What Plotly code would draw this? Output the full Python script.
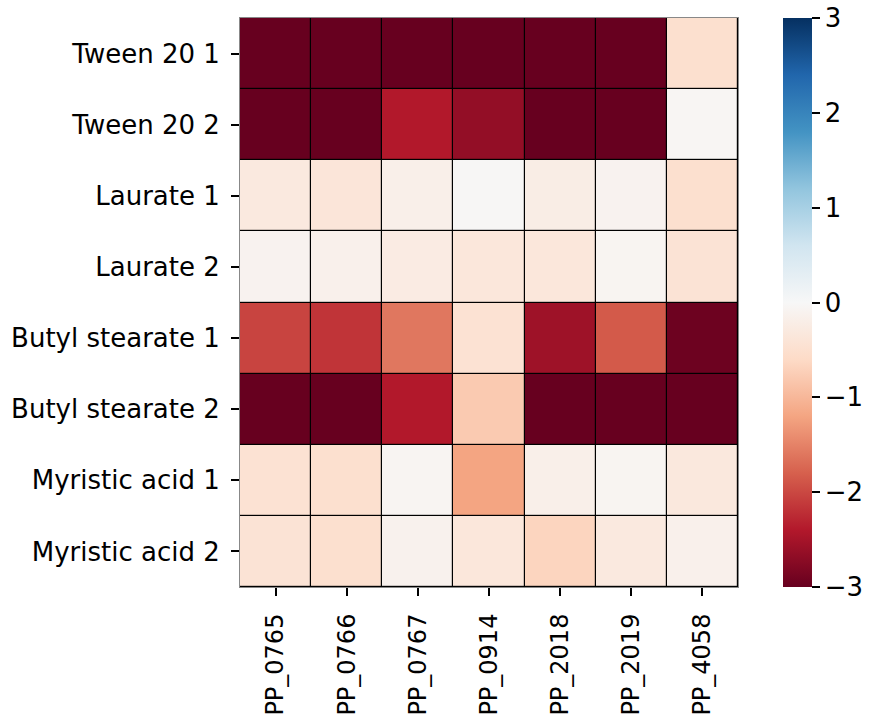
import plotly.graph_objects as go

genes = ["PP_0765", "PP_0766", "PP_0767", "PP_0914", "PP_2018", "PP_2019", "PP_4058"]
conditions = ["Tween 20 1", "Tween 20 2", "Laurate 1", "Laurate 2",
              "Butyl stearate 1", "Butyl stearate 2", "Myristic acid 1", "Myristic acid 2"]

tween20_1 = [-3.0, -3.0, -3.0, -3.0, -3.0, -3.0, -0.5]
tween20_2 = [-3.0, -3.0, -2.4, -2.65, -3.0, -3.0, -0.05]
laurate_1 = [-0.3, -0.38, -0.18, -0.03, -0.22, -0.1, -0.5]
laurate_2 = [-0.1, -0.15, -0.25, -0.35, -0.35, -0.07, -0.42]
butyl_1 = [-2.03, -2.17, -1.6, -0.45, -2.56, -1.85, -2.95]
butyl_2 = [-3.0, -3.0, -2.4, -0.79, -3.0, -3.0, -3.0]
myristic_1 = [-0.45, -0.5, -0.06, -1.2, -0.18, -0.07, -0.33]
myristic_2 = [-0.42, -0.5, -0.13, -0.35, -0.67, -0.3, -0.15]

z = [tween20_1, tween20_2, laurate_1, laurate_2, butyl_1, butyl_2, myristic_1, myristic_2]

rdbu = ["#67001f", "#b2182b", "#d6604d", "#f4a582", "#fddbc7", "#f7f7f7",
        "#d1e5f0", "#92c5de", "#4393c3", "#2166ac", "#053061"]
colorscale = [[i / 10, c] for i, c in enumerate(rdbu)]

font = "DejaVu Sans"
fs = 26

fig = go.Figure(go.Heatmap(
    z=z, x=genes, y=conditions,
    zmin=-3, zmax=3, colorscale=colorscale,
    xgap=1.2, ygap=1.2,
    colorbar=dict(
        x=1.0904, xanchor="left", xref="paper", xpad=0,
        y=0.5, yanchor="middle", len=1.0, lenmode="fraction", ypad=0,
        thickness=29, outlinewidth=0,
        tickmode="array", tickvals=[-3, -2, -1, 0, 1, 2, 3],
        ticks="outside", ticklen=8, tickwidth=1.5, tickcolor="black",
        tickfont=dict(family=font, size=fs, color="black"),
    ),
))

fig.update_layout(
    width=870, height=725,
    margin=dict(l=240, r=132, t=18, b=138, autoexpand=False),
    plot_bgcolor="black", paper_bgcolor="white",
    font=dict(family=font, size=fs, color="black"),
)
fig.update_xaxes(
    tickangle=-90, ticks="outside", ticklen=8, tickwidth=1.5, tickcolor="black",
    ticklabelstandoff=8,
    showgrid=False, zeroline=False, showline=True, linecolor="#888", linewidth=1, mirror=True,
    tickfont=dict(family=font, size=24, color="black"),
)
fig.update_yaxes(
    autorange="reversed", ticks="outside", ticklen=8, tickwidth=1.5, tickcolor="black",
    ticklabelstandoff=6,
    showgrid=False, zeroline=False, showline=True, linecolor="#888", linewidth=1, mirror=True,
    tickfont=dict(family=font, size=fs, color="black"),
)

fig.write_html("out.html", config={"displayModeBar": False},
               post_script="document.body.style.margin='0';")
